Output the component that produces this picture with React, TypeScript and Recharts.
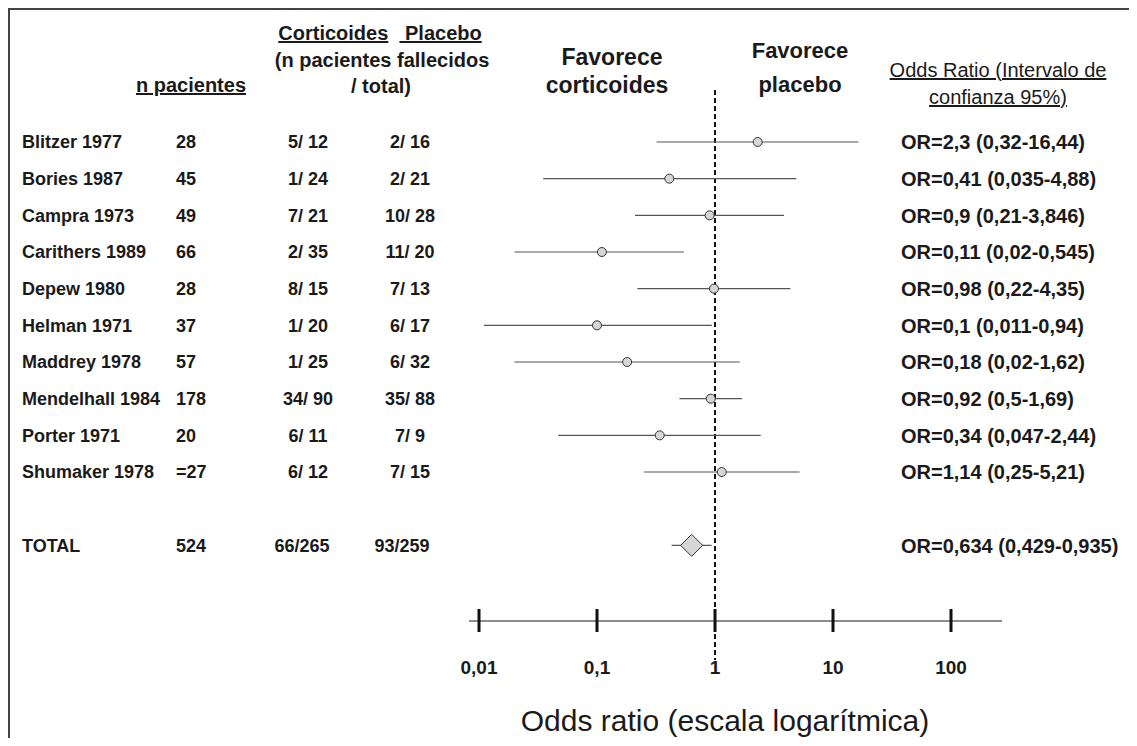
import {
  ComposedChart,
  ErrorBar,
  ReferenceLine,
  Scatter,
  XAxis,
  YAxis,
} from "recharts";

// studies in the meta-analysis
const studies = [
  "Blitzer 1977",
  "Bories 1987",
  "Campra 1973",
  "Carithers 1989",
  "Depew 1980",
  "Helman 1971",
  "Maddrey 1978",
  "Mendelhall 1984",
  "Porter 1971",
  "Shumaker 1978",
];
const patients = ["28", "45", "49", "66", "28", "37", "57", "178", "20", "=27"];
const corticoides = ["5/ 12", "1/ 24", "7/ 21", "2/ 35", "8/ 15", "1/ 20", "1/ 25", "34/ 90", "6/ 11", "6/ 12"];
const placebo = ["2/ 16", "2/ 21", "10/ 28", "11/ 20", "7/ 13", "6/ 17", "6/ 32", "35/ 88", "7/ 9", "7/ 15"];
const oddsRatio = [2.3, 0.41, 0.9, 0.11, 0.98, 0.1, 0.18, 0.92, 0.34, 1.14];
const ciLow = [0.32, 0.035, 0.21, 0.02, 0.22, 0.011, 0.02, 0.5, 0.047, 0.25];
const ciHigh = [16.44, 4.88, 3.846, 0.545, 4.35, 0.94, 1.62, 1.69, 2.44, 5.21];

const totalName = "TOTAL";
const totalPatients = "524";
const totalCorticoides = "66/265";
const totalPlacebo = "93/259";
const totalOr = 0.634;
const totalLow = 0.429;
const totalHigh = 0.935;

const axisTicks = [0.01, 0.1, 1, 10, 100];

const FONT = "'Liberation Sans', Arial, Helvetica, sans-serif";
const INK = "#1a1a1a";
const OX = 10; // svg origin on the page (body margin + frame)
const TOTAL_ROW = 11;

const fmt = (v: number) => String(v).replace(".", ",");
const orText = (or: number, lo: number, hi: number) =>
  `OR=${fmt(or)} (${fmt(lo)}-${fmt(hi)})`;

type Row = {
  row: number;
  name: string;
  n: string;
  cort: string;
  plac: string;
  or: number;
  err: [number, number];
  label: string;
  total?: boolean;
};

const rows: Row[] = studies.map((name, i) => ({
  row: i,
  name,
  n: patients[i],
  cort: corticoides[i],
  plac: placebo[i],
  or: oddsRatio[i],
  err: [oddsRatio[i] - ciLow[i], ciHigh[i] - oddsRatio[i]],
  label: orText(oddsRatio[i], ciLow[i], ciHigh[i]),
}));

const totalRows: Row[] = [
  {
    row: TOTAL_ROW,
    name: totalName,
    n: totalPatients,
    cort: totalCorticoides,
    plac: totalPlacebo,
    or: totalOr,
    err: [totalOr - totalLow, totalHigh - totalOr],
    label: orText(totalOr, totalLow, totalHigh),
    total: true,
  },
];

const allRows = [...rows, ...totalRows];

function RowTick({ y, payload }: any) {
  const r = allRows.find((d) => d.row === payload.value);
  if (!r) return null;
  const cx = r.total ? 302 : 308;
  const px = r.total ? 402 : 410;
  return (
    <g fontFamily={FONT} fontWeight="bold" fill={INK}>
      <text x={22 - OX} y={y} dy="0.36em" fontSize={18}>
        {r.name}
      </text>
      <text x={176 - OX} y={y} dy="0.36em" fontSize={18}>
        {r.n}
      </text>
      <text x={cx - OX} y={y} dy="0.36em" fontSize={18} textAnchor="middle">
        {r.cort}
      </text>
      <text x={px - OX} y={y} dy="0.36em" fontSize={18} textAnchor="middle">
        {r.plac}
      </text>
      <text x={901 - OX} y={y} dy="0.36em" fontSize={20}>
        {r.label}
      </text>
    </g>
  );
}

function OddsTick({ x, y, payload }: any) {
  return (
    <g>
      <line x1={x} x2={x} y1={y - 12} y2={y + 11} stroke="#111" strokeWidth={3} />
      <text
        x={x}
        y={y + 53}
        textAnchor="middle"
        fontFamily={FONT}
        fontWeight="bold"
        fontSize={19}
        fill={INK}
      >
        {fmt(payload.value)}
      </text>
    </g>
  );
}

const Dot = ({ cx, cy }: any) => (
  <circle cx={cx} cy={cy} r={4.5} fill="#d6d6d6" stroke="#333" strokeWidth={1} />
);

const Diamond = ({ cx, cy }: any) => (
  <polygon
    points={`${cx},${cy - 11} ${cx + 11},${cy} ${cx},${cy + 11} ${cx - 11},${cy}`}
    fill="#d6d6d6"
    stroke="#333"
    strokeWidth={1}
  />
);

function Head({
  x,
  y,
  size = 20,
  bold = true,
  children,
}: {
  x: number;
  y: number;
  size?: number;
  bold?: boolean;
  children: React.ReactNode;
}) {
  return (
    <div
      style={{
        position: "absolute",
        left: x - OX,
        top: y - OX,
        transform: "translate(-50%, -50%)",
        whiteSpace: "pre",
        fontSize: size,
        fontWeight: bold ? "bold" : "normal",
        lineHeight: 1,
        color: INK,
      }}
    >
      {children}
    </div>
  );
}

export default function App() {
  return (
    <div
      style={{
        position: "relative",
        width: 1127,
        height: 736,
        marginBottom: -8,
        borderTop: "2px solid #444",
        borderLeft: "2px solid #444",
        fontFamily: FONT,
        overflow: "hidden",
      }}
    >
      <ComposedChart
        width={1127}
        height={736}
        margin={{ top: 80, right: 135, bottom: 0, left: 0 }}
      >
        <XAxis
          type="number"
          dataKey="or"
          scale="log"
          domain={[0.008226, 270.5]}
          allowDataOverflow
          ticks={axisTicks}
          interval={0}
          height={125}
          tickSize={0}
          tickMargin={0}
          tickLine={false}
          axisLine={{ stroke: "#666", strokeWidth: 1.5 }}
          tick={<OddsTick />}
        />
        <YAxis
          type="number"
          dataKey="row"
          reversed
          domain={[-1.418, 13.063]}
          allowDataOverflow
          ticks={allRows.map((r) => r.row)}
          interval={0}
          width={459}
          tickSize={0}
          tickMargin={0}
          axisLine={false}
          tickLine={false}
          tick={<RowTick />}
        />
        <ReferenceLine
          segment={[
            { x: 1, y: -1.418 },
            { x: 1, y: 14.126 },
          ]}
          ifOverflow="visible"
          stroke="#111"
          strokeWidth={2}
          strokeDasharray="5 3"
        />
        <Scatter data={rows} shape={Dot} isAnimationActive={false}>
          <ErrorBar dataKey="err" direction="x" width={0} stroke="#555" strokeWidth={1.2} />
        </Scatter>
        <Scatter data={totalRows} shape={Diamond} isAnimationActive={false}>
          <ErrorBar dataKey="err" direction="x" width={0} stroke="#555" strokeWidth={1.2} />
        </Scatter>
      </ComposedChart>

      <Head x={380} y={33}>
        <u>Corticoides</u>
        {"  "}
        <u> Placebo</u>
      </Head>
      <Head x={382} y={60}>(n pacientes fallecidos</Head>
      <Head x={381} y={86}>/ total)</Head>
      <Head x={191} y={85} size={20}>
        <u>n pacientes</u>
      </Head>
      <Head x={612} y={57} size={23}>Favorece</Head>
      <Head x={607} y={85} size={23}>corticoides</Head>
      <Head x={800} y={51} size={22}>Favorece</Head>
      <Head x={800} y={85} size={22}>placebo</Head>
      <Head x={998} y={70} bold={false}>
        <u>Odds Ratio (Intervalo de</u>
      </Head>
      <Head x={998} y={97} bold={false}>
        <u>confianza 95%)</u>
      </Head>
      <Head x={725} y={721} size={30} bold={false}>
        Odds ratio (escala logarítmica)
      </Head>
    </div>
  );
}
